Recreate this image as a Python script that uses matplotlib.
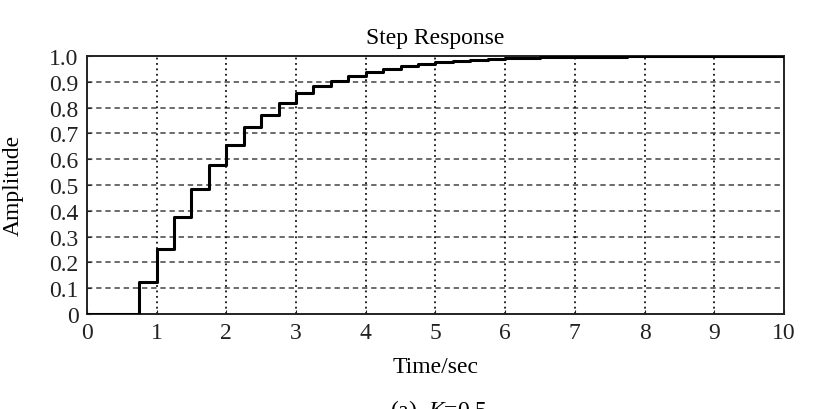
import numpy as np
import matplotlib
matplotlib.use("Agg")
import matplotlib.pyplot as plt

plt.rcParams["font.family"] = ["Liberation Serif", "DejaVu Serif"]
plt.rcParams["mathtext.fontset"] = "custom"
plt.rcParams["mathtext.rm"] = "Liberation Serif"
plt.rcParams["mathtext.it"] = "Liberation Serif:italic"

# sampled step response, T = 0.25 s
sample_period = 0.25
amplitude = [0, 0, 0, 0.125, 0.25, 0.375, 0.484, 0.579, 0.656, 0.724,
             0.772, 0.818, 0.857, 0.884, 0.904, 0.921, 0.936, 0.950, 0.961, 0.970,
             0.977, 0.982, 0.986, 0.989, 0.992, 0.994, 0.995, 0.996, 0.997, 0.998,
             0.998, 0.999, 0.999, 0.999, 0.999, 1.0, 1.0, 1.0, 1.0, 1.0]
x_ticks = list(range(0, 11))
y_ticks = [0, 0.1, 0.2, 0.3, 0.4, 0.5, 0.6, 0.7, 0.8, 0.9, 1.0]
y_tick_labels = ["0", "0.1", "0.2", "0.3", "0.4", "0.5", "0.6", "0.7", "0.8", "0.9", "1.0"]

t = np.arange(len(amplitude) + 1) * sample_period
y = amplitude + [amplitude[-1]]

fig = plt.figure(figsize=(8.2, 4.1), dpi=100)
ax = fig.add_axes([0.106, 0.232, 0.85, 0.629])

ax.step(t, y, where="post", color="black", linewidth=2.2, zorder=3)

ax.set_xlim(0, 10)
ax.set_ylim(0, 1)
ax.set_xticks(x_ticks)
ax.set_yticks(y_ticks)
ax.set_yticklabels(y_tick_labels)
ax.tick_params(direction="in", length=3, labelsize=17, colors="#222222")
ax.tick_params(axis="y", pad=6)
ax.tick_params(axis="x", pad=6)

for v in y_ticks[1:-1]:
    ax.axhline(v, color="#444444", linestyle=(0, (3.5, 2.5)), linewidth=1.1, zorder=1)
for v in x_ticks[1:-1]:
    ax.axvline(v, color="#111111", linestyle=(0, (1, 2)), linewidth=1.3, zorder=1)

for s in ax.spines.values():
    s.set_linewidth(1.4)
    s.set_color("#222222")

ax.set_title("Step Response", fontsize=17, pad=9)
ax.set_xlabel("Time/sec", fontsize=17, labelpad=9)
ax.set_ylabel("Amplitude", fontsize=17, labelpad=18)

fig.text(0.535, 0.03, "(a)  $K$=0.5", fontsize=17, ha="center", va="top")

fig.savefig("out.png", dpi=100)
